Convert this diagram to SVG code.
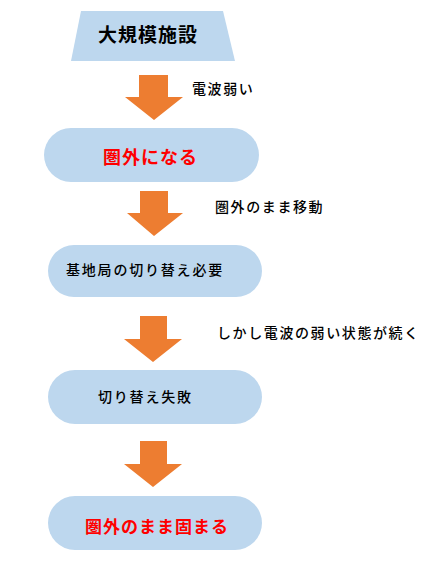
<svg xmlns="http://www.w3.org/2000/svg" width="430" height="570" viewBox="0 0 430 570">
<style>
.node{fill:#BDD7EE;stroke:none}
.arrow{fill:#ED7D31;stroke:none}
.t{font-family:"Noto Sans CJK JP","Noto Sans",sans-serif;fill:#000}
.big{font-size:19px;font-weight:bold;letter-spacing:1px}
.red{fill:#FF0000;font-weight:bold}
.nt{font-size:14px;font-weight:500;letter-spacing:1.8px}
.lbl{font-size:14px;font-weight:500;letter-spacing:1.6px}
</style>
<rect width="430" height="570" fill="#fff"/>
<g id="n1">
<polygon class="node" points="81,11 223,11 235,61 71,61"/>
<text class="t big" x="98" y="42">大規模施設</text>
</g>
<g id="n2">
<rect class="node" x="44" y="128" width="215" height="54" rx="27"/>
<text class="t red" x="103" y="164" font-size="18" letter-spacing="1">圏外になる</text>
</g>
<g id="n3">
<rect class="node" x="48" y="245" width="214" height="52" rx="26"/>
<text class="t nt" x="66" y="275">基地局の切り替え必要</text>
</g>
<g id="n4">
<rect class="node" x="48" y="370" width="214" height="54" rx="27"/>
<text class="t nt" x="98" y="402">切り替え失敗</text>
</g>
<g id="n5">
<rect class="node" x="48" y="496" width="214" height="54" rx="27"/>
<text class="t red" x="85" y="533" font-size="17" letter-spacing="1">圏外のまま固まる</text>
</g>
<g id="connectors">
<polygon class="arrow" points="139,75 168,75 168,97 183,97 154,120 125,97 139,97"/>
<polygon class="arrow" points="140,191 168,191 168,213 183,213 154,236 127,213 140,213"/>
<polygon class="arrow" points="140,316 167,316 167,339 182,339 153,362 124,339 140,339"/>
<polygon class="arrow" points="140,441 167,441 167,464 182,464 153,487 124,464 140,464"/>
<text class="t lbl" x="192" y="94">電波弱い</text>
<text class="t lbl" x="215" y="212">圏外のまま移動</text>
<text class="t lbl" x="217" y="338">しかし電波の弱い状態が続く</text>
</g>
</svg>
